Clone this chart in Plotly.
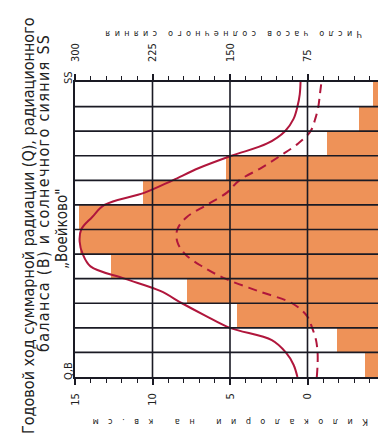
import plotly.graph_objects as go

# месяцы снизу вверх (январь внизу)
months = ["I", "II", "III", "IV", "V", "VI", "VII", "VIII", "IX", "X", "XI", "XII"]
# число часов солнечного сияния по месяцам
sunshine_hours = [19, 46, 143, 192, 265, 295, 296, 234, 154, 56, 25, 12]

# положение по оси времени (в месяцах от начала года) для кривых
curve_t = [0, 0.5, 1, 1.5, 2, 2.5, 3, 3.5, 4, 4.5, 5, 5.5, 6,
           6.5, 7, 7.5, 8, 8.5, 9, 9.5, 10, 10.5, 11, 11.5, 12]
# суммарная радиация Q, ккал/см2
q_values = [0.65, 0.9, 1.4, 2.3, 5.0, 6.6, 8.1, 9.5, 11.8, 14.0, 14.5, 14.7, 14.6,
            13.9, 13.1, 10.5, 8.7, 7.0, 4.9, 2.6, 1.45, 0.9, 0.65, 0.5, 0.45]
# радиационный баланс B, ккал/см2
b_values = [-0.6, -0.65, -0.65, -0.55, -0.3, 0.05, 1.0, 3.2, 5.3, 6.8, 7.9, 8.4, 8.4,
            7.8, 6.5, 5.2, 4.4, 3.0, 1.75, 0.6, -0.2, -0.5, -0.7, -0.8, -0.9]

kcal_ticks = [15, 10, 5, 0, -5]
hour_ticks = [300, 225, 150, 75, 0]

month_pos = [i + 0.5 for i in range(len(months))]

# страница имеет отступ body 8px, поэтому фигура меньше окна
OFF = 8
W, H = 386 - OFF, 443 - OFF
L, R, T, B = 75 - OFF, 1, 82 - OFF, 66


def px_x(x):
    return (x - OFF - L) / (W - L - R)


def px_y(y):
    return (H - B - (y - OFF)) / (H - T - B)


RED = "#b0163c"
INK = "#1a1a24"
FONT = "DejaVu Sans Condensed, Liberation Sans, Arial, sans-serif"

fig = go.Figure()
fig.add_trace(go.Bar(x=sunshine_hours, y=month_pos, orientation="h", xaxis="x",
                     width=1, marker=dict(color="#ee9258", line=dict(width=0)),
                     hovertext=months, showlegend=False))
fig.add_trace(go.Scatter(x=q_values, y=curve_t, mode="lines", line_shape="spline", xaxis="x2",
                         line=dict(color=RED, width=2), showlegend=False))
fig.add_trace(go.Scatter(x=b_values, y=curve_t, mode="lines", line_shape="spline", xaxis="x2",
                         line=dict(color=RED, width=2, dash="9px,6px"), showlegend=False))

shapes = []
for v in kcal_ticks[1:-1]:
    shapes.append(dict(type="line", xref="x2", yref="y", x0=v, x1=v, y0=0, y1=12,
                       line=dict(color=INK, width=1.6), layer="above"))
for i in range(1, len(months)):
    shapes.append(dict(type="line", xref="paper", yref="y", x0=0, x1=1, y0=i, y1=i,
                       line=dict(color=INK, width=1.6), layer="above"))


def note(text, x, y, size, angle=-90):
    return dict(text=text, xref="paper", yref="paper", x=px_x(x), y=px_y(y),
                xanchor="center", yanchor="middle", showarrow=False, textangle=angle,
                font=dict(family=FONT, size=size, color="#222"))


annotations = [
    note("Годовой ход суммарной радиации (Q), радиационного", 28, 226, 16),
    note('<span style="letter-spacing:1.3px">баланса (B) и солнечного сияния SS</span>', 43, 193, 16),
    note("„Воейково\"", 62, 229, 15),
    note("SS", 68, 78, 11),
    note("Q,B", 68, 371, 11),
    note('<span style="letter-spacing:4.3px">Число часов солнечного сияния</span>', 232, 34, 9, 180),
    note('<span style="letter-spacing:9.5px">Килокалории на кв.см</span>', 226, 422, 9, 180),
]

axis_common = dict(showgrid=False, zeroline=False, showline=True, linecolor=INK, linewidth=1.6,
                   ticks="outside", ticklen=6, tickwidth=1.5, tickcolor=INK, tickangle=-90,
                   tickfont=dict(family=FONT, size=11, color="#222"), automargin=False)

fig.update_layout(
    width=W, height=H, template="none",
    margin=dict(l=L, r=R, t=T, b=B, pad=0),
    paper_bgcolor="white", plot_bgcolor="white",
    bargap=0, showlegend=False,
    shapes=shapes, annotations=annotations,
    xaxis=dict(range=[300, 0], side="top", tickvals=hour_ticks,
               ticktext=[str(v) for v in hour_ticks], ticklabelstandoff=10,
               minor=dict(dtick=15, ticks="outside", ticklen=4, tickcolor=INK, tickwidth=1.2),
               **axis_common),
    xaxis2=dict(range=[15, -5], overlaying="x", side="bottom", tickvals=kcal_ticks,
                ticktext=[str(v) for v in kcal_ticks], ticklabelstandoff=4,
                minor=dict(dtick=1, ticks="outside", ticklen=4, tickcolor=INK, tickwidth=1.2),
                **axis_common),
    yaxis=dict(range=[0, 12], showticklabels=False, showgrid=False, zeroline=False,
               showline=True, linecolor=INK, linewidth=1.6, ticks="", automargin=False),
)

fig.write_html("out.html")
